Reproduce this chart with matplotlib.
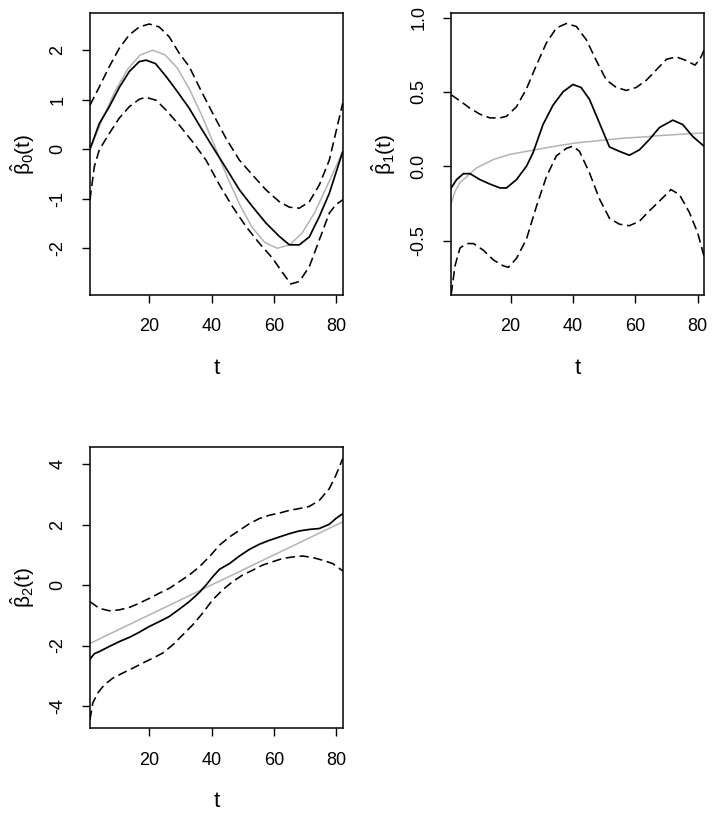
import numpy as np
import matplotlib.pyplot as plt

plt.rcParams['font.family'] = ['Liberation Sans', 'DejaVu Sans']
plt.rcParams['mathtext.fontset'] = 'custom'
plt.rcParams['mathtext.rm'] = 'Liberation Sans'
plt.rcParams['mathtext.it'] = 'Liberation Sans'
plt.rcParams['mathtext.bf'] = 'Liberation Sans:bold'

# ---- panel 1: beta0(t) ----
t0_est = [1, 4, 7.2, 10.4, 13.6, 16.8, 19, 22, 25.4, 28.6, 32.8, 36, 40.3, 44.6,
          48.9, 53.1, 57.4, 61.7, 64.9, 68.1, 71.3, 74.5, 77.7, 82]
b0_est = [0.0, 0.52, 0.86, 1.25, 1.57, 1.77, 1.80, 1.73, 1.47, 1.20, 0.83, 0.49,
          0.05, -0.38, -0.82, -1.16, -1.49, -1.76, -1.93, -1.93, -1.77, -1.36, -0.89, -0.05]
t0_up = [1, 4, 7.2, 10.4, 13.6, 16.8, 20, 23.2, 26.4, 29.6, 32.8, 36, 40.3, 44.6,
         48.9, 53.1, 57.4, 61.7, 64.9, 68.1, 71.3, 74.5, 77.7, 82]
b0_up = [0.89, 1.26, 1.67, 2.04, 2.31, 2.47, 2.53, 2.47, 2.27, 1.94, 1.67, 1.26,
         0.73, 0.22, -0.22, -0.52, -0.82, -1.06, -1.17, -1.19, -1.06, -0.72, -0.22, 0.93]
t0_lo = [1, 2.4, 4, 7.2, 10.4, 13.6, 16.8, 18.9, 22.2, 25.4, 29.6, 33.9, 38.2, 42.5,
         46.7, 51, 55.3, 59.5, 62.8, 65.4, 68.1, 71.3, 74.5, 77.7, 79.8, 82]
b0_lo = [-1.02, -0.35, -0.01, 0.32, 0.63, 0.86, 1.01, 1.05, 0.99, 0.79, 0.49, 0.15,
         -0.22, -0.72, -1.16, -1.56, -1.90, -2.20, -2.50, -2.72, -2.67, -2.37, -1.83,
         -1.29, -1.12, -1.02]
t0_true = [1, 5, 9, 13, 17, 21, 25, 29, 33, 37, 41, 45, 49, 53, 57, 61, 65, 69, 73, 77, 82]
b0_true = [0.0, 0.61, 1.17, 1.61, 1.90, 2.0, 1.91, 1.64, 1.20, 0.66, 0.06, -0.56,
           -1.12, -1.58, -1.88, -2.0, -1.93, -1.69, -1.28, -0.74, -0.05]

# ---- panel 2: beta1(t) ----
t1_est = [1, 2.7, 4.9, 7, 10.2, 13.4, 16.6, 18.7, 21.9, 25.1, 27.2, 30.4, 33.6, 36.8,
          40, 42.6, 45.3, 48.5, 51.7, 54.9, 58.1, 61.3, 64.5, 67.7, 72, 75.2, 78.4, 82]
b1_est = [-0.146, -0.09, -0.05, -0.05, -0.09, -0.12, -0.146, -0.146, -0.09, 0.0, 0.09,
          0.28, 0.41, 0.50, 0.55, 0.53, 0.45, 0.29, 0.13, 0.10, 0.074, 0.11, 0.18, 0.26,
          0.31, 0.28, 0.20, 0.135]
t1_up = [1, 3.8, 7, 10.2, 13.4, 16.6, 18.7, 21.9, 25.1, 28.3, 31.5, 34.7, 37.9, 41.1,
         44.3, 47.5, 50.7, 53.9, 57.1, 60.3, 63.6, 66.8, 70, 73.2, 76.4, 79.1, 80.7, 82]
b1_up = [0.48, 0.44, 0.39, 0.35, 0.325, 0.325, 0.336, 0.40, 0.52, 0.68, 0.83, 0.93,
         0.96, 0.94, 0.85, 0.71, 0.58, 0.53, 0.51, 0.53, 0.58, 0.65, 0.72, 0.735, 0.71,
         0.68, 0.72, 0.78]
t1_lo = [1, 2.2, 3.8, 6, 8.1, 11.3, 14.5, 17.7, 19.3, 21.9, 25.1, 28.3, 31.5, 34.7,
         37.9, 40, 42.1, 45.3, 48.5, 51.7, 54.9, 58.1, 61.3, 64.5, 67.7, 71.4, 74.1,
         77.3, 80, 82]
b1_lo = [-0.86, -0.67, -0.55, -0.52, -0.52, -0.565, -0.63, -0.67, -0.68, -0.62, -0.49,
         -0.27, -0.07, 0.07, 0.12, 0.135, 0.10, -0.045, -0.22, -0.35, -0.39, -0.40,
         -0.37, -0.30, -0.235, -0.157, -0.19, -0.31, -0.45, -0.605]
t1_true = [1, 2.2, 3.8, 6, 9.2, 14.5, 19.8, 25.1, 30.4, 35.8, 41.1, 46.4, 51.7, 57.1,
           62.4, 67.7, 73, 78.4, 82]
b1_true = [-0.25, -0.17, -0.11, -0.07, -0.01, 0.045, 0.08, 0.10, 0.12, 0.14, 0.157,
           0.168, 0.18, 0.19, 0.197, 0.206, 0.213, 0.22, 0.224]

# ---- panel 3: beta2(t) ----
t2_est = [1, 2.4, 4, 7.2, 10.4, 13.6, 16.8, 20, 23.2, 26.4, 29.6, 32.8, 36, 38.2,
          40.3, 42.5, 45.7, 48.9, 52.1, 55.3, 58.5, 61.7, 64.9, 68.1, 71.3, 74.5,
          77.7, 79.8, 82]
b2_est = [-2.45, -2.27, -2.20, -2.03, -1.87, -1.73, -1.56, -1.37, -1.21, -1.04, -0.80,
          -0.55, -0.25, 0.0, 0.27, 0.52, 0.71, 0.96, 1.18, 1.35, 1.48, 1.59, 1.70, 1.79,
          1.84, 1.87, 2.01, 2.20, 2.36]
t2_up = [1, 4, 7.2, 10.4, 13.6, 16.8, 20, 23.2, 26.4, 29.6, 32.8, 36, 39.2, 42.5,
         45.7, 48.9, 52.1, 55.3, 58.5, 61.7, 64.9, 68.1, 71.3, 74.5, 77.7, 79.8, 82]
b2_up = [-0.55, -0.77, -0.85, -0.82, -0.74, -0.60, -0.44, -0.27, -0.11, 0.11, 0.33,
         0.60, 0.93, 1.32, 1.59, 1.81, 2.03, 2.20, 2.31, 2.38, 2.47, 2.53, 2.60, 2.80,
         3.19, 3.63, 4.18]
t2_lo = [1, 1.9, 3.5, 5.6, 8.3, 11.5, 14.7, 17.9, 21.1, 24.3, 27.5, 30.7, 33.9, 37.1,
         40.3, 43.5, 46.7, 49.9, 53.1, 56.3, 59.5, 62.8, 66, 69.2, 72.4, 75.6, 78.8, 82]
b2_lo = [-4.45, -3.90, -3.57, -3.30, -3.08, -2.91, -2.75, -2.58, -2.42, -2.25, -1.98,
         -1.65, -1.32, -0.93, -0.49, -0.16, 0.11, 0.33, 0.49, 0.66, 0.77, 0.88, 0.93,
         0.96, 0.91, 0.82, 0.71, 0.47]
t2_true = [1, 82]
b2_true = [-1.93, 2.09]

panels = [
    (t0_est, b0_est, t0_up, b0_up, t0_lo, b0_lo, t0_true, b0_true,
     r'$\hat{\beta}_0(t)$', [-2, -1, 0, 1, 2], ['-2', '-1', '0', '1', '2'],
     (-2.94, 2.75), [0.126, 0.640, 0.354, 0.344]),
    (t1_est, b1_est, t1_up, b1_up, t1_lo, b1_lo, t1_true, b1_true,
     r'$\hat{\beta}_1(t)$', [-0.5, 0.0, 0.5, 1.0], ['-0.5', '0.0', '0.5', '1.0'],
     (-0.865, 1.03), [0.632, 0.640, 0.354, 0.344]),
    (t2_est, b2_est, t2_up, b2_up, t2_lo, b2_lo, t2_true, b2_true,
     r'$\hat{\beta}_2(t)$', [-4, -2, 0, 2, 4], ['-4', '-2', '0', '2', '4'],
     (-4.73, 4.56), [0.126, 0.111, 0.354, 0.343]),
]

fig = plt.figure(figsize=(7.14, 8.19), dpi=100)
dash = (0, (5.8, 2.9))
for (te, be, tu, bu, tl, bl, tt, bt, lab, yt, ytl, ylim, pos) in panels:
    ax = fig.add_axes(pos)
    ax.plot(tt, bt, color='#b3b3b3', lw=1.1)
    ax.plot(te, be, color='black', lw=1.25)
    ax.plot(tu, bu, color='black', lw=1.15, linestyle=dash)
    ax.plot(tl, bl, color='black', lw=1.15, linestyle=dash)
    ax.set_xlim(1, 82)
    ax.set_ylim(*ylim)
    ax.set_xticks([20, 40, 60, 80])
    ax.set_yticks(yt)
    ax.set_yticklabels(ytl, rotation=90, va='center')
    ax.tick_params(direction='out', length=6, width=1, labelsize=13, pad=11)
    for s in ax.spines.values():
        s.set_linewidth(1.1)
    ax.set_xlabel('t', fontsize=16, labelpad=16)
    ax.set_ylabel(lab, fontsize=15, labelpad=9)

fig.savefig('out.png', dpi=100)
